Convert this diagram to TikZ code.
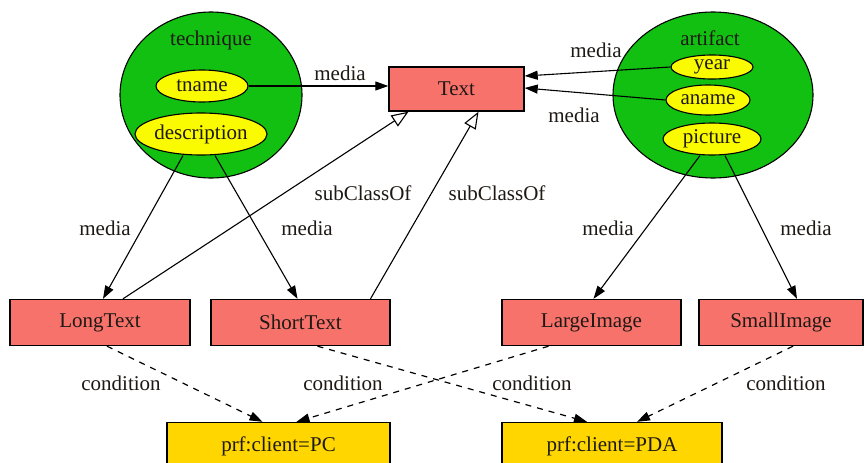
\documentclass[tikz,border=0pt]{standalone}
\usepackage{fontspec}
\setmainfont{Liberation Serif}
\usetikzlibrary{shapes.geometric,arrows.meta}
\definecolor{cgreen}{RGB}{18,192,18}
\definecolor{cyellow}{RGB}{250,250,0}
\definecolor{csalmon}{RGB}{248,114,108}
\definecolor{cgold}{RGB}{255,214,0}
\definecolor{ctext}{RGB}{30,25,20}
\begin{document}
\begin{tikzpicture}[x=1pt,y=-1pt,
  font=\fontsize{21}{24}\selectfont,
  every node/.style={inner sep=0pt, text=ctext},
  clsnode/.style={ellipse, draw=black, line width=1.1pt, fill=cgreen},
  propnode/.style={ellipse, draw=black, line width=1.1pt, fill=cyellow},
  rbox/.style={rectangle, draw=black, line width=1.4pt, fill=csalmon, minimum height=46pt},
  gbox/.style={rectangle, draw=black, line width=1.4pt, fill=cgold, minimum height=47pt},
  medge/.style={draw, line width=1.1pt, -{Triangle[length=13pt,width=9pt]}},
  sedge/.style={draw, line width=1.1pt, -{Triangle[open,length=17pt,width=13pt,fill=white]}},
  cedge/.style={draw, line width=1.2pt, dash pattern=on 6pt off 6pt, -{Triangle[length=13pt,width=9pt]}},
  lbl/.style={inner sep=0pt}
]
\useasboundingbox (0,0) rectangle (865,463);
\clip (0,0) rectangle (865,463);
\fill[white] (0,0) rectangle (865,463);

% class circles
\node[clsnode, minimum width=182pt, minimum height=166pt] (technique) at (211,95) {};
\node[clsnode, minimum width=200pt, minimum height=166pt] (artifact) at (713,95) {};
\node[lbl] (techlbl) at (211,40) {technique};
\node[lbl] (artlbl) at (710,38) {artifact};

% properties
\node[propnode, minimum width=92pt, minimum height=32pt] (tname) at (202,86) {tname};
\node[propnode, minimum width=132pt, minimum height=42pt] (description) at (201,134) {description};
\node[propnode, minimum width=82pt, minimum height=24pt] (year) at (712,67) {year};
\node[propnode, minimum width=84pt, minimum height=30pt] (aname) at (708,100) {aname};
\node[propnode, minimum width=98pt, minimum height=32pt] (picture) at (712,139) {picture};

% boxes
\node[rbox, minimum width=135pt, minimum height=44pt] (Text) at (456.5,89) {Text};
\node[rbox, minimum width=180pt] (LongText) at (100,322.5) {LongText};
\node[rbox, minimum width=179pt] (ShortText) at (300.5,322.5) {ShortText};
\node[rbox, minimum width=179pt] (LargeImage) at (591.5,322.5) {LargeImage};
\node[rbox, minimum width=164pt] (SmallImage) at (781,322.5) {SmallImage};
\node[gbox, minimum width=223pt] (PC) at (278.5,446) {prf:client=PC};
\node[gbox, minimum width=220pt] (PDA) at (612,446) {prf:client=PDA};

% media edges to Text
\draw[medge] (tname.east) -- (tname.east -| Text.west);
\draw[medge] (year.west) -- ([yshift=13pt]Text.east);
\draw[medge] (aname.west) -- ([yshift=1pt]Text.east);

% media edges down
\draw[medge] ([xshift=-18pt]description.south) -- ([xshift=3pt]LongText.north);
\draw[medge] ([xshift=14pt]description.south) -- ([xshift=-3pt]ShortText.north);
\draw[medge] ([xshift=-12pt]picture.south) -- ([xshift=2pt]LargeImage.north);
\draw[medge] ([xshift=13pt]picture.south) -- ([xshift=16pt]SmallImage.north);

% subClassOf
\draw[sedge] ([xshift=23pt]LongText.north) -- ([xshift=-48pt]Text.south);
\draw[sedge] ([xshift=70pt]ShortText.north) -- ([xshift=22pt]Text.south);

% conditions
\draw[cedge] ([xshift=7pt]LongText.south) -- ([xshift=-16pt]PC.north);
\draw[cedge] ([xshift=17pt]ShortText.south) -- ([xshift=-25pt]PDA.north);
\draw[cedge] ([xshift=-43pt]LargeImage.south) -- ([xshift=18pt]PC.north);
\draw[cedge] ([xshift=12pt]SmallImage.south) -- ([xshift=25pt]PDA.north);

% labels
\node[lbl] (m1) at (340,73) {media};
\node[lbl] (m2) at (596,50) {media};
\node[lbl] (m3) at (574,115) {media};
\node[lbl] (m4) at (105,228) {media};
\node[lbl] (m5) at (307,228) {media};
\node[lbl] (m6) at (608,228) {media};
\node[lbl] (m7) at (806,228) {media};
\node[lbl] (s1) at (363,193) {subClassOf};
\node[lbl] (s2) at (497,193) {subClassOf};
\node[lbl] (c1) at (121,383) {condition};
\node[lbl] (c2) at (343,383) {condition};
\node[lbl] (c3) at (532,383) {condition};
\node[lbl] (c4) at (786,383) {condition};
\end{tikzpicture}
\end{document}
